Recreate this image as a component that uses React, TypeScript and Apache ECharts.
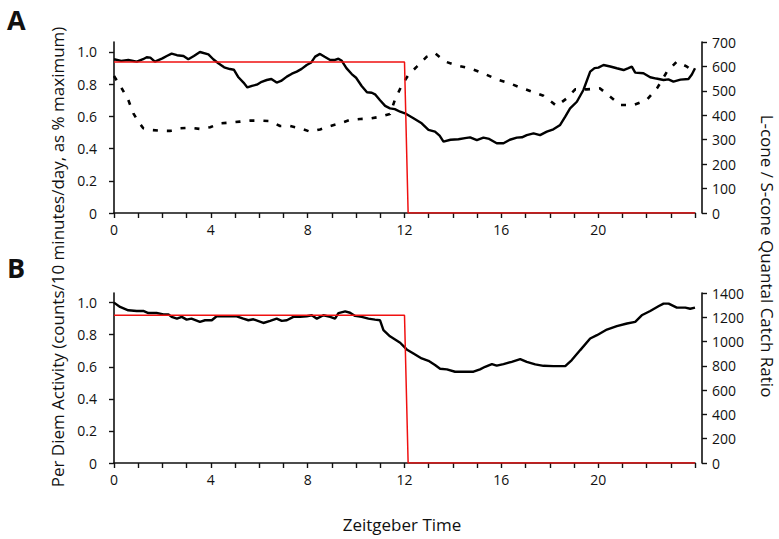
import React, { useEffect, useRef } from "react";
import * as echarts from "echarts";

// Panel A: activity (left axis, fraction of max) — solid line
const panelAActivity: [number, number][] = [
  [0, 0.955], [0.3, 0.945], [0.59, 0.95], [0.94, 0.94], [1.2, 0.955], [1.35, 0.967], [1.5, 0.965], [1.69, 0.94],
  [2.0, 0.96], [2.18, 0.975], [2.38, 0.99], [2.6, 0.98], [2.87, 0.975], [3.07, 0.955], [3.3, 0.975], [3.55, 1.0],
  [3.9, 0.985], [4.1, 0.955], [4.31, 0.93], [4.55, 0.905], [4.79, 0.894], [4.95, 0.89], [5.14, 0.843], [5.35, 0.81],
  [5.51, 0.78], [5.7, 0.79], [5.9, 0.797], [6.1, 0.815], [6.31, 0.826], [6.5, 0.832], [6.72, 0.81], [6.9, 0.82],
  [7.14, 0.847], [7.35, 0.865], [7.55, 0.878], [7.75, 0.895], [7.96, 0.919], [8.15, 0.935], [8.31, 0.971],
  [8.51, 0.988], [8.7, 0.97], [8.93, 0.95], [9.1, 0.95], [9.27, 0.958], [9.41, 0.945], [9.6, 0.9], [9.82, 0.863],
  [10.0, 0.84], [10.23, 0.789], [10.45, 0.75], [10.65, 0.747], [10.8, 0.735], [10.99, 0.7], [11.2, 0.665],
  [11.4, 0.65], [11.6, 0.645], [11.82, 0.629], [12.02, 0.619], [12.37, 0.588], [12.71, 0.557], [12.99, 0.516],
  [13.26, 0.505], [13.45, 0.48], [13.61, 0.443], [13.9, 0.455], [14.23, 0.458], [14.5, 0.465], [14.71, 0.47],
  [14.99, 0.453], [15.26, 0.468], [15.5, 0.46], [15.81, 0.433], [16.09, 0.433], [16.35, 0.455], [16.64, 0.468],
  [16.85, 0.47], [17.05, 0.484], [17.33, 0.495], [17.6, 0.484], [17.88, 0.505], [18.15, 0.52], [18.43, 0.547],
  [18.64, 0.598], [18.84, 0.65], [19.12, 0.691], [19.39, 0.764], [19.67, 0.878], [19.85, 0.9], [20.01, 0.903],
  [20.22, 0.919], [20.5, 0.91], [20.77, 0.899], [21.05, 0.888], [21.25, 0.9], [21.39, 0.909], [21.53, 0.872],
  [21.87, 0.868], [22.15, 0.843], [22.4, 0.835], [22.7, 0.826], [22.9, 0.83], [23.11, 0.816], [23.4, 0.828],
  [23.73, 0.832], [23.87, 0.86], [24.0, 0.899],
];

// Panel A: L-cone / S-cone quantal catch ratio (right axis) — dashed line
const panelARatio: [number, number][] = [
  [0, 561], [0.32, 510], [0.59, 463], [0.8, 408], [1.0, 374], [1.21, 347], [1.49, 340], [1.9, 337], [2.31, 336],
  [2.73, 347], [3.14, 349], [3.55, 344], [3.97, 351], [4.38, 367], [4.79, 370], [5.2, 374], [5.62, 378],
  [6.03, 378], [6.45, 376], [6.86, 356], [7.27, 356], [7.69, 347], [8.1, 333], [8.51, 342], [8.93, 356],
  [9.34, 367], [9.75, 381], [10.17, 385], [10.58, 387], [10.99, 394], [11.4, 405], [11.6, 462], [11.89, 524],
  [12.16, 565], [12.51, 599], [12.92, 640], [13.26, 654], [13.68, 620], [14.16, 604], [14.71, 592], [15.26, 572],
  [15.81, 547], [16.29, 533], [16.78, 514], [17.26, 497], [17.74, 480], [18.29, 438], [18.71, 470], [19.05, 506],
  [19.53, 506], [20.08, 510], [20.5, 476], [20.91, 442], [21.46, 442], [22.01, 463], [22.43, 510], [22.84, 578],
  [23.25, 620], [23.67, 599], [23.94, 578],
];

// Panel B: activity (left axis) — solid line
const panelBActivity: [number, number][] = [
  [0, 1.0], [0.25, 0.973], [0.59, 0.952], [0.94, 0.948], [1.21, 0.948], [1.42, 0.935], [1.76, 0.935],
  [2.04, 0.927], [2.25, 0.927], [2.38, 0.911], [2.6, 0.9], [2.8, 0.911], [3.0, 0.894], [3.2, 0.9], [3.55, 0.88],
  [3.76, 0.89], [4.04, 0.89], [4.24, 0.915], [4.66, 0.915], [5.07, 0.915], [5.34, 0.9], [5.55, 0.89],
  [5.76, 0.896], [6.17, 0.873], [6.45, 0.886], [6.72, 0.9], [6.93, 0.886], [7.14, 0.89], [7.41, 0.911],
  [7.69, 0.911], [7.96, 0.915], [8.17, 0.921], [8.38, 0.9], [8.65, 0.921], [8.93, 0.911], [9.13, 0.9],
  [9.27, 0.935], [9.55, 0.945], [9.75, 0.937], [9.96, 0.917], [10.23, 0.911], [10.51, 0.9], [10.78, 0.894],
  [10.99, 0.89], [11.13, 0.828], [11.4, 0.79], [11.61, 0.77], [11.82, 0.75], [12.09, 0.708], [12.37, 0.683],
  [12.71, 0.652], [12.99, 0.637], [13.26, 0.611], [13.47, 0.588], [13.75, 0.584], [14.09, 0.569], [14.43, 0.569],
  [14.85, 0.569], [15.12, 0.584], [15.33, 0.6], [15.61, 0.617], [15.81, 0.607], [16.09, 0.617], [16.43, 0.631],
  [16.78, 0.648], [17.05, 0.631], [17.4, 0.615], [17.74, 0.606], [18.15, 0.604], [18.64, 0.604], [18.91, 0.642],
  [19.26, 0.704], [19.67, 0.776], [19.95, 0.797], [20.36, 0.832], [20.77, 0.853], [21.19, 0.87], [21.53, 0.88],
  [21.8, 0.921], [22.15, 0.948], [22.49, 0.977], [22.7, 0.994], [22.91, 0.994], [23.25, 0.969], [23.6, 0.969],
  [23.8, 0.962], [24, 0.969],
];

// Light schedule (red step)
const lightA: [number, number][] = [[0, 0.938], [12, 0.938], [12.15, 0], [24, 0]];
const lightB: [number, number][] = [[0, 0.921], [12, 0.921], [12.15, 0], [24, 0]];

// Tick labels
const leftTicks = [0, 0.2, 0.4, 0.6, 0.8, 1.0];
const xLabelHours = [0, 4, 8, 12, 16, 20];

const FONT = "Open Sans";
const INK = "#111";
const TICK_FONT = 14;
const TITLE_FONT = 17;

export default function App() {
  const ref = useRef<HTMLDivElement>(null);
  useEffect(() => {
    if (!ref.current) return;
    const chart = echarts.init(ref.current, undefined, { renderer: "svg" });

    const xAxis = (gridIndex: number) => ({
      type: "value",
      gridIndex,
      min: 0,
      max: 24,
      interval: 1,
      axisLine: { show: true, onZero: false, lineStyle: { color: INK, width: 1.6 } },
      axisTick: { show: true, length: 5, lineStyle: { color: INK, width: 1.4 } },
      axisLabel: {
        color: INK,
        fontFamily: FONT,
        fontSize: TICK_FONT,
        margin: 9,
        formatter: (v: number) => (xLabelHours.includes(v) ? String(v) : ""),
      },
      splitLine: { show: false },
    });

    const leftAxis = (gridIndex: number, max: number) => ({
      type: "value",
      gridIndex,
      position: "left",
      offset: 9,
      min: 0,
      max,
      axisLine: { show: true, lineStyle: { color: INK, width: 1.6 } },
      axisTick: { show: true, length: 5, customValues: leftTicks, lineStyle: { color: INK, width: 1.4 } },
      axisLabel: {
        color: INK,
        fontFamily: FONT,
        fontSize: TICK_FONT,
        margin: 8,
        customValues: leftTicks,
        formatter: (v: number) => (v === 0 ? "0" : v.toFixed(1)),
      },
      splitLine: { show: false },
    });

    const rightAxis = (gridIndex: number, max: number, interval: number) => ({
      type: "value",
      gridIndex,
      position: "right",
      offset: 7,
      min: 0,
      max,
      interval,
      axisLine: { show: true, lineStyle: { color: INK, width: 1.6 } },
      axisTick: { show: true, length: 5, lineStyle: { color: INK, width: 1.4 } },
      axisLabel: { color: INK, fontFamily: FONT, fontSize: TICK_FONT, margin: 10, formatter: (v: number) => String(v) },
      splitLine: { show: false },
    });

    chart.setOption({
      animation: false,
      backgroundColor: "#fff",
      grid: [
        { left: 114, right: 84, top: 42, height: 171 },
        { left: 114, right: 84, top: 293, height: 170 },
      ],
      xAxis: [xAxis(0), xAxis(1)],
      yAxis: [leftAxis(0, 1.062), rightAxis(0, 700, 100), leftAxis(1, 1.06), rightAxis(1, 1400, 200)],
      series: [
        {
          type: "line", xAxisIndex: 0, yAxisIndex: 1, data: panelARatio, symbol: "none",
          lineStyle: { color: "#000", width: 2.6, type: [5, 9] }, z: 3,
        },
        {
          type: "line", xAxisIndex: 0, yAxisIndex: 0, data: panelAActivity, symbol: "none",
          lineStyle: { color: "#000", width: 2.4 }, z: 4,
        },
        {
          type: "line", xAxisIndex: 0, yAxisIndex: 0, data: lightA, symbol: "none",
          lineStyle: { color: "#f01010", width: 1.5 }, z: 5,
        },
        {
          type: "line", xAxisIndex: 1, yAxisIndex: 2, data: panelBActivity, symbol: "none",
          lineStyle: { color: "#000", width: 2.4 }, z: 4,
        },
        {
          type: "line", xAxisIndex: 1, yAxisIndex: 2, data: lightB, symbol: "none",
          lineStyle: { color: "#f01010", width: 1.5 }, z: 5,
        },
      ],
      graphic: [
        { type: "text", x: 7, y: 6, style: { text: "A", fontFamily: FONT, fontWeight: "bold", fontSize: 27, fill: "#111" } },
        { type: "text", x: 7, y: 254, style: { text: "B", fontFamily: FONT, fontWeight: "bold", fontSize: 27, fill: "#111" } },
        {
          type: "text", x: 57, y: 257, rotation: Math.PI / 2,
          style: {
            text: "Per Diem Activity (counts/10 minutes/day, as % maximum)",
            fontFamily: FONT, fontSize: TITLE_FONT, fill: INK, align: "center", verticalAlign: "middle",
          },
        },
        {
          type: "text", x: 767, y: 256, rotation: -Math.PI / 2,
          style: {
            text: "L-cone / S-cone Quantal Catch Ratio",
            fontFamily: FONT, fontSize: TITLE_FONT, fill: INK, align: "center", verticalAlign: "middle",
          },
        },
        {
          type: "text", x: 402, y: 524,
          style: { text: "Zeitgeber Time", fontFamily: FONT, fontSize: TITLE_FONT, fill: INK, align: "center", verticalAlign: "middle" },
        },
      ],
    });
    return () => chart.dispose();
  }, []);
  return <div ref={ref} style={{ position: "fixed", left: 0, top: 0, width: 779, height: 539 }} />;
}
